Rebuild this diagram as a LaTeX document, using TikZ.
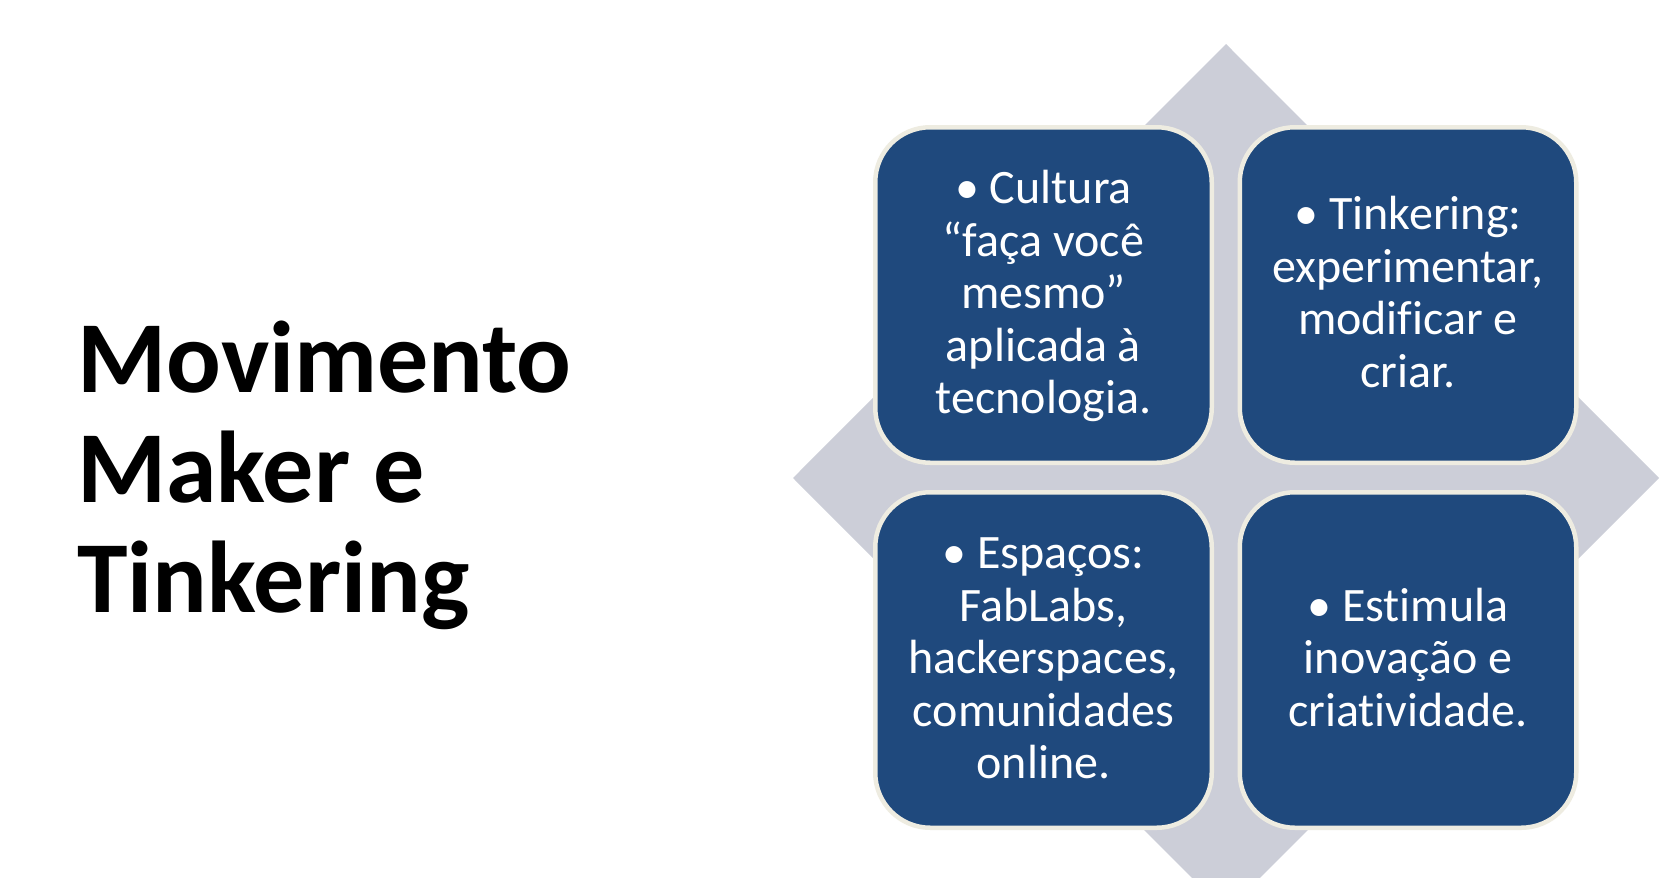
\documentclass[tikz,border=0pt]{standalone}
\usepackage{fontspec}
\setmainfont{Carlito}[Ligatures={NoCommon}]
\definecolor{boxblue}{RGB}{31,73,125}
\definecolor{boxedge}{RGB}{238,236,225}
\definecolor{diamondgray}{RGB}{204,206,216}
\begin{document}
\begin{tikzpicture}[x=1pt,y=-1pt,
  quad/.style={draw=boxedge, line width=4.5pt, fill=boxblue, rounded corners=55pt,
    minimum width=336.5pt, minimum height=335.5pt, inner sep=0pt},
  quadtext/.style={text=white, font=\fontsize{48}{52.5}\selectfont, inner sep=0pt, yshift=-3pt},
  titletext/.style={font=\fontsize{102}{110}\selectfont\bfseries, inner sep=0pt, anchor=base west}]
\useasboundingbox (0,0) rectangle (1676,878);
\clip (0,0) rectangle (1676,878);
\fill[white] (0,0) rectangle (1676,878);
% background diamond
\fill[diamondgray] (1226,44) -- (1659,478) -- (1226,912) -- (793,478) -- cycle;
% quadrants
\node[quad] (tl) at (1043.5,295) {};
\node[quad] (tr) at (1408,295) {};
\node[quad] (bl) at (1043.5,660) {};
\node[quad] (br) at (1408,660) {};
\node[quadtext] (tltext) at (tl.center) {\begin{tabular}{@{}c@{}}• Cultura\\“faça você\\mesmo”\\aplicada à\\tecnologia.\end{tabular}};
\node[quadtext] (trtext) at (tr.center) {\begin{tabular}{@{}c@{}}• Tinkering:\\experimentar,\\modificar e\\criar.\end{tabular}};
\node[quadtext] (bltext) at (bl.center) {\begin{tabular}{@{}c@{}}• Espaços:\\FabLabs,\\hackerspaces,\\comunidades\\online.\end{tabular}};
\node[quadtext] (brtext) at (br.center) {\begin{tabular}{@{}c@{}}• Estimula\\inovação e\\criatividade.\end{tabular}};
% title
\node[titletext] (title) at (77,392) {\begin{tabular}[t]{@{}l@{}}Movimento\\Maker e\\Tinkering\end{tabular}};
\end{tikzpicture}
\end{document}
